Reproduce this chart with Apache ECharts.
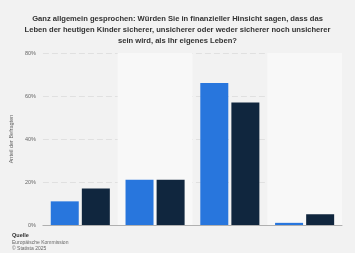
<!DOCTYPE html>
<html>
<head>
<meta charset="utf-8">
<script src="https://cdn.jsdelivr.net/npm/echarts@6/dist/echarts.min.js"></script>
<style>
html,body{margin:0;padding:0;background:#f2f2f2;}
#c{width:355px;height:253px;}
</style>
</head>
<body>
<div id="c"></div>
<script>
const categories = ['Sicherer', 'Unsicherer', 'Weder noch', 'Weiß nicht'];
const seriesA = [11, 21, 66, 1];
const seriesB = [17, 21, 57, 5];
const yTicks = [0, 20, 40, 60, 80];

const chart = echarts.init(document.getElementById('c'), null, {renderer: 'canvas'});
const font = 'Arial, "Liberation Sans", sans-serif';
chart.setOption({
  backgroundColor: '#f2f2f2',
  animation: false,
  title: {
    text: 'Ganz allgemein gesprochen: Würden Sie in finanzieller Hinsicht sagen, dass das\nLeben der heutigen Kinder sicherer, unsicherer oder weder sicherer noch unsicherer\nsein wird, als Ihr eigenes Leben?',
    left: 'center',
    top: 8,
    textStyle: {fontSize: 7.6, fontWeight: 'bold', color: '#333', fontFamily: font, lineHeight: 11}
  },
  graphic: [
    {type: 'text', left: 12, top: 232, style: {text: 'Quelle', fontSize: 5.5, fontWeight: 'bold', fill: '#333', fontFamily: font}},
    {type: 'text', left: 12, top: 240, style: {text: 'Europäische Kommission', fontSize: 5, fill: '#666', fontFamily: font}},
    {type: 'text', left: 12, top: 246.5, style: {text: '© Statista 2025', fontSize: 5, fill: '#666', fontFamily: font}}
  ],
  grid: {left: 42, right: 13, top: 53, bottom: 28, containLabel: false},
  xAxis: {
    type: 'category',
    data: categories,
    axisLine: {show: true, lineStyle: {color: '#b0b0b0', width: 1}},
    axisTick: {show: false, interval: 0},
    axisLabel: {show: false, interval: 0},
    splitArea: {show: true, interval: 0, areaStyle: {color: ['rgba(0,0,0,0)', '#f8f8f8']}}
  },
  yAxis: {
    type: 'value',
    min: yTicks[0],
    max: yTicks[yTicks.length - 1],
    interval: 20,
    name: 'Anteil der Befragten',
    nameLocation: 'middle',
    nameGap: 17,
    nameTextStyle: {fontSize: 5.5, color: '#666', fontFamily: font},
    axisLine: {show: false},
    axisTick: {show: false},
    axisLabel: {formatter: '{value}%', fontSize: 5.5, color: '#666', fontFamily: font, margin: 7},
    splitLine: {show: true, lineStyle: {color: '#e0e0e0', type: [6, 3], width: 1}}
  },
  series: [
    {type: 'bar', name: 'A', data: seriesA, barWidth: 28, barGap: '11%',
     itemStyle: {color: '#2876dd'}},
    {type: 'bar', name: 'B', data: seriesB, barWidth: 28,
     itemStyle: {color: '#10263e'}}
  ]
});
</script>
</body>
</html>
